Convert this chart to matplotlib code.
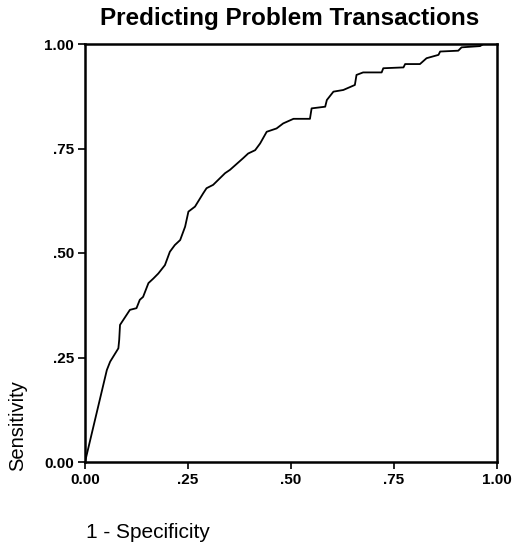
import matplotlib
matplotlib.use("Agg")
import matplotlib.pyplot as plt

plt.rcParams['font.family'] = ['Liberation Sans', 'DejaVu Sans']

# ROC curve
fpr = [0.0, 0.053, 0.061, 0.081, 0.083, 0.085, 0.093, 0.109, 0.125, 0.133,
       0.141, 0.154, 0.166, 0.178, 0.194, 0.206, 0.218, 0.231, 0.243, 0.251,
       0.267, 0.287, 0.295, 0.311, 0.340, 0.352, 0.384, 0.396, 0.413, 0.425,
       0.441, 0.465, 0.481, 0.506, 0.546, 0.550, 0.583, 0.587, 0.603, 0.627,
       0.655, 0.659, 0.675, 0.720, 0.724, 0.773, 0.777, 0.813, 0.829, 0.858,
       0.862, 0.906, 0.914, 0.959, 0.967, 1.0]
tpr = [0.0, 0.220, 0.240, 0.272, 0.292, 0.328, 0.340, 0.364, 0.368, 0.388,
       0.395, 0.428, 0.439, 0.451, 0.471, 0.503, 0.519, 0.531, 0.563, 0.599,
       0.611, 0.643, 0.655, 0.663, 0.691, 0.699, 0.727, 0.738, 0.746, 0.762,
       0.790, 0.798, 0.810, 0.821, 0.821, 0.846, 0.850, 0.866, 0.886, 0.890,
       0.902, 0.926, 0.932, 0.932, 0.942, 0.944, 0.952, 0.952, 0.966, 0.974,
       0.982, 0.984, 0.992, 0.995, 1.0, 1.0]

ticks = [0.0, 0.25, 0.5, 0.75, 1.0]
tick_labels = ['0.00', '.25', '.50', '.75', '1.00']

fig = plt.figure(figsize=(5.13, 5.45), dpi=100)
ax = fig.add_axes([85/513, 1-462/545, 412/513, 418/545])

ax.plot(fpr, tpr, color='black', lw=1.3)
ax.set_xlim(0, 1)
ax.set_ylim(0, 1)
ax.set_xticks(ticks)
ax.set_xticklabels(tick_labels, fontweight='bold')
ax.set_yticks(ticks)
ax.set_yticklabels(tick_labels, fontweight='bold')
ax.tick_params(direction='out', length=5, width=1.2, labelsize=11, pad=3)
for s in ax.spines.values():
    s.set_linewidth(1.8)

fig.text(290/513, 1-19/545, 'Predicting Problem Transactions', ha='center', va='center',
         fontsize=17.5, fontweight='bold')
fig.text(18/513, 1-471/545, 'Sensitivity', rotation=90, ha='center', va='bottom', fontsize=14.5)
fig.text(86/513, 1-533/545, '1 - Specificity', ha='left', va='center', fontsize=15)

fig.savefig('out.png', dpi=100)
